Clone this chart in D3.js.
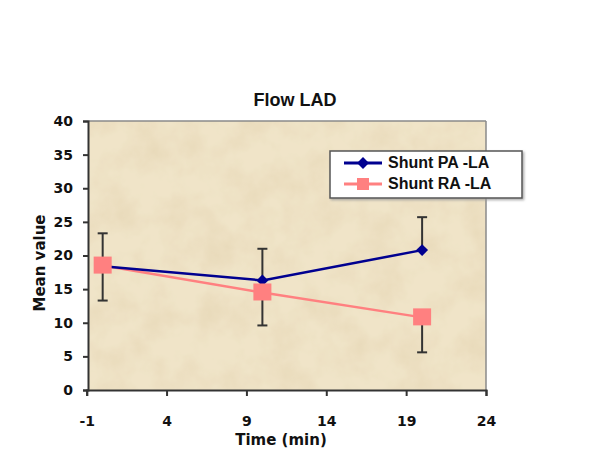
<!DOCTYPE html>
<html>
<head>
<meta charset="utf-8">
<script src="https://cdn.jsdelivr.net/npm/d3@7"></script>
<style>
  body { margin: 0; background: #fff; }
  text { font-family: "Liberation Sans", Arial, sans-serif; font-weight: bold; fill: #111; }
  text.wide { font-family: "DejaVu Sans", sans-serif; }
</style>
</head>
<body>
<svg id="chart" width="600" height="471"></svg>
<script>
const times = [0, 10, 20];
const series_names = ["Shunt PA -LA", "Shunt RA -LA"];
const pa_values = [18.4, 16.3, 20.8];
const ra_values = [18.5, 14.5, 10.8];
const pa_err_top = [23.3, 21.0, 25.7];   // upper error bars (PA)
const ra_err_bottom = [13.3, 9.6, 5.6];  // lower error bars (RA)
const x_ticks = [-1, 4, 9, 14, 19, 24];
const y_ticks = [0, 5, 10, 15, 20, 25, 30, 35, 40];

const svg = d3.select("#chart");
const plot_l = 88, plot_r = 486, plot_t = 121, plot_b = 390;

const x = d3.scaleLinear().domain([-1, 24]).range([plot_l - 1.3, plot_r]);
const y = d3.scaleLinear().domain([0, 40]).range([plot_b, plot_t]);

// parchment-like texture
const defs = svg.append("defs");
const f = defs.append("filter").attr("id", "paper").attr("x", 0).attr("y", 0).attr("width", 1).attr("height", 1);
f.append("feTurbulence").attr("type", "fractalNoise").attr("baseFrequency", 0.03).attr("numOctaves", 4).attr("seed", 7).attr("result", "noise");
f.append("feColorMatrix").attr("in", "noise").attr("type", "matrix")
    .attr("values", "0 0 0 0 0.80  0 0 0 0 0.69  0 0 0 0 0.48  0 0 0 1.6 -0.6").attr("result", "tint");
f.append("feComposite").attr("in", "tint").attr("in2", "SourceGraphic").attr("operator", "in").attr("result", "spots");
f.append("feMerge").selectAll("feMergeNode").data(["SourceGraphic", "spots"]).enter()
    .append("feMergeNode").attr("in", (d) => d);

const shadow = defs.append("filter").attr("id", "shadow").attr("x", -0.1).attr("y", -0.1).attr("width", 1.2).attr("height", 1.3);
shadow.append("feDropShadow").attr("dx", 1.5).attr("dy", 1.5).attr("stdDeviation", 1).attr("flood-color", "#999").attr("flood-opacity", 0.8);

// title box
svg.append("rect").attr("x", 240).attr("y", 84).attr("width", 112).attr("height", 28)
    .attr("rx", 6).style("fill", "#fff");
svg.append("text").attr("x", 295).attr("y", 106).attr("text-anchor", "middle")
    .style("font-size", "18px").text("Flow LAD");

// plot area
svg.append("rect").attr("x", plot_l).attr("y", plot_t).attr("width", plot_r - plot_l).attr("height", plot_b - plot_t)
    .style("fill", "#f0e4c8").attr("filter", "url(#paper)");
svg.append("line").attr("x1", plot_l).attr("x2", plot_r).attr("y1", plot_t).attr("y2", plot_t)
    .style("stroke", "#8a8a8a").style("stroke-width", 1.5);
svg.append("line").attr("x1", plot_r).attr("x2", plot_r).attr("y1", plot_t).attr("y2", plot_b)
    .style("stroke", "#8a8a8a").style("stroke-width", 1.5);

// axes
const yAxis = d3.axisLeft(y).tickValues(y_ticks).tickSize(5).tickPadding(10);
const gy = svg.append("g").attr("transform", `translate(${plot_l},0)`).call(yAxis);
gy.selectAll("text").attr("class", "wide").style("font-size", "14px");

const xAxis = d3.axisBottom(x).tickValues(x_ticks).tickFormat((d) => d).tickSize(6).tickPadding(20);
const gx = svg.append("g").attr("transform", `translate(0,${plot_b})`).call(xAxis);
gx.selectAll("text").attr("class", "wide").style("font-size", "14px");

svg.selectAll(".domain, .tick line").style("stroke", "#333").style("stroke-width", 2);

svg.append("text").attr("class", "wide").attr("x", 281).attr("y", 445).attr("text-anchor", "middle")
    .style("font-size", "15px").text("Time (min)");
svg.append("text").attr("class", "wide").attr("transform", "translate(45,263) rotate(-90)").attr("text-anchor", "middle")
    .style("font-size", "15px").text("Mean value");

// error bars
const err = [];
times.forEach((t, i) => {
    err.push({ t: t, from: pa_values[i], to: pa_err_top[i] });
    err.push({ t: t, from: ra_values[i], to: ra_err_bottom[i] });
});
const ge = svg.append("g");
err.forEach((e) => {
    ge.append("line").attr("x1", x(e.t)).attr("x2", x(e.t)).attr("y1", y(e.from)).attr("y2", y(e.to))
        .style("stroke", "#333").style("stroke-width", 2);
    ge.append("line").attr("x1", x(e.t) - 5).attr("x2", x(e.t) + 5).attr("y1", y(e.to)).attr("y2", y(e.to))
        .style("stroke", "#333").style("stroke-width", 2);
});

const line = d3.line().x((d) => x(d[0])).y((d) => y(d[1]));
const pa_pts = times.map((t, i) => [t, pa_values[i]]);
const ra_pts = times.map((t, i) => [t, ra_values[i]]);

svg.append("path").attr("d", line(ra_pts)).style("fill", "none").style("stroke", "#ff8080").style("stroke-width", 2.5);
svg.append("path").attr("d", line(pa_pts)).style("fill", "none").style("stroke", "#000090").style("stroke-width", 2.5);

const diamond = d3.symbol().type(d3.symbolDiamond2).size(90);
svg.selectAll("path.pa").data(pa_pts).enter().append("path").attr("class", "pa")
    .attr("d", diamond).attr("transform", (d) => `translate(${x(d[0])},${y(d[1])})`)
    .style("fill", "#000090");
svg.selectAll("rect.ra").data(ra_pts).enter().append("rect").attr("class", "ra")
    .attr("x", (d) => x(d[0]) - 9).attr("y", (d) => y(d[1]) - 9).attr("width", 18).attr("height", 17)
    .style("fill", "#ff8080");

// legend
const lg = svg.append("g").attr("transform", "translate(330,151)");
lg.append("rect").attr("width", 192).attr("height", 47).style("fill", "#fff")
    .style("stroke", "#555").style("stroke-width", 1.5).attr("filter", "url(#shadow)");
const colors = ["#000090", "#ff8080"];
series_names.forEach((name, i) => {
    const yy = 12 + i * 21;
    lg.append("line").attr("x1", 14).attr("x2", 52).attr("y1", yy).attr("y2", yy)
        .style("stroke", colors[i]).style("stroke-width", 3);
    if (i == 0) {
        lg.append("path").attr("d", diamond).attr("transform", `translate(33,${yy})`).style("fill", colors[i]);
    } else {
        lg.append("rect").attr("x", 27).attr("y", yy - 6).attr("width", 12).attr("height", 12).style("fill", colors[i]);
    }
    lg.append("text").attr("x", 58).attr("y", yy + 5).style("font-size", "16px").text(name);
});
</script>
</body>
</html>
